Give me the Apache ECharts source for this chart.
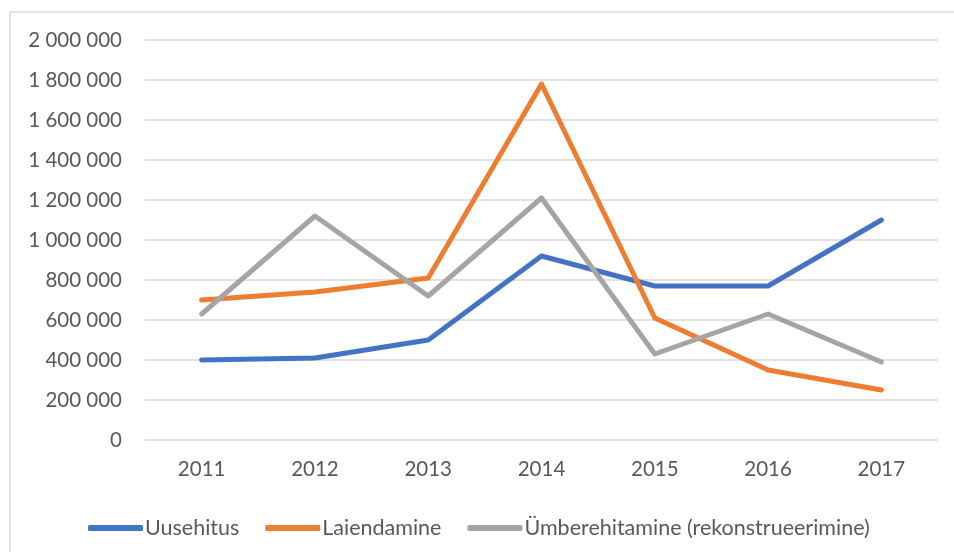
<!DOCTYPE html>
<html>
<head>
<meta charset="utf-8">
<script src="https://cdn.jsdelivr.net/npm/echarts@6/dist/echarts.min.js"></script>
<style>
  html, body { margin: 0; padding: 0; background: #fff; }
  #chart { width: 954px; height: 552px; }
</style>
</head>
<body>
<div id="chart"></div>
<script>
const years = ['2011', '2012', '2013', '2014', '2015', '2016', '2017'];
const uusehitus = [400000, 410000, 500000, 920000, 770000, 770000, 1100000];
const laiendamine = [700000, 740000, 810000, 1780000, 610000, 350000, 250000];
const umberehitamine = [630000, 1120000, 720000, 1210000, 430000, 630000, 390000];

const font = 'Lato, "Open Sans", sans-serif';
const textColor = '#595959';

// thousands with a space, like the original
function fmt(v) {
  return String(v).replace(/\B(?=(\d{3})+(?!\d))/g, ' ');
}

function line(name, data, color) {
  return {
    name: name,
    type: 'line',
    data: data,
    symbol: 'none',
    lineStyle: { width: 5, color: color, cap: 'round', join: 'round' },
    itemStyle: { color: color }
  };
}

const chart = echarts.init(document.getElementById('chart'));
chart.setOption({
  animation: false,
  textStyle: { fontFamily: font },
  graphic: [{
    type: 'rect',
    shape: { x: 10, y: 12, width: 960, height: 560 },
    style: { fill: 'none', stroke: '#d9d9d9', lineWidth: 1.5 },
    silent: true
  }],
  grid: { left: 145, right: 16, top: 40, bottom: 112 },
  legend: {
    left: 83,
    top: 512,
    itemWidth: 55,
    itemHeight: 6,
    itemGap: 26,
    icon: 'roundRect',
    textStyle: { fontSize: 21.5, color: textColor, fontFamily: font, padding: [0, 0, 0, -3] },
    data: ['Uusehitus', 'Laiendamine', 'Ümberehitamine (rekonstrueerimine)']
  },
  xAxis: {
    type: 'category',
    data: years,
    boundaryGap: true,
    axisLine: { show: false },
    axisTick: { show: false },
    axisLabel: { color: textColor, fontSize: 20.5, margin: 19 }
  },
  yAxis: {
    type: 'value',
    min: 0,
    max: 2000000,
    interval: 200000,
    axisLine: { show: false },
    axisTick: { show: false },
    splitLine: { lineStyle: { color: '#d9d9d9', width: 1.5 } },
    axisLabel: { color: textColor, fontSize: 20.5, margin: 23, formatter: fmt }
  },
  series: [
    line('Uusehitus', uusehitus, '#4472C4'),
    line('Laiendamine', laiendamine, '#ED7D31'),
    line('Ümberehitamine (rekonstrueerimine)', umberehitamine, '#A5A5A5')
  ]
});
</script>
</body>
</html>
